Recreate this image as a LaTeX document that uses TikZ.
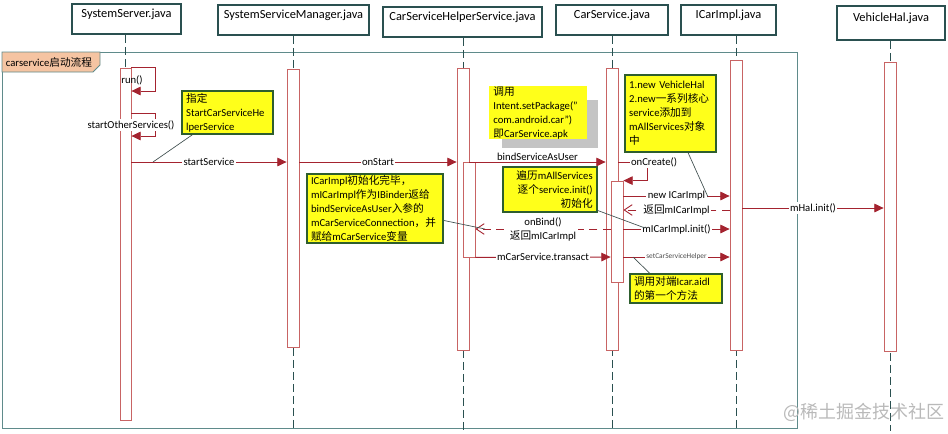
\documentclass[tikz,border=0pt]{standalone}
\usepackage{fontspec}
\setmainfont{Carlito}
\newfontfamily\cjkfont{Noto Sans CJK SC}
\usepackage{xcolor}
\usepackage{tikz}
\usetikzlibrary{shapes,arrows.meta,positioning,fit,calc,backgrounds}

\definecolor{headline}{HTML}{2A5050}
\definecolor{barred}{HTML}{C86464}
\definecolor{msgred}{HTML}{A4232F}
\definecolor{notegreen}{HTML}{2E5E2E}
\definecolor{noteyellow}{HTML}{FFFF1A}
\definecolor{framegray}{HTML}{5F8B8B}
\definecolor{tabfill}{HTML}{F5C4A2}
\definecolor{shadowgray}{HTML}{C4C4C4}
\definecolor{linkgray}{HTML}{404F4F}

\newcommand\zh[1]{{\cjkfont #1}}

\begin{document}
\begin{tikzpicture}[
    x=0.75pt, y=-0.75pt,
    head/.style={rectangle, draw=headline, line width=1.4pt, fill=white, inner sep=0pt, font=\fontsize{9.3}{11}\selectfont},
    bar/.style={rectangle, draw=barred, line width=0.6pt, fill=white, inner sep=0pt},
    life/.style={draw=headline, line width=0.6pt, dash pattern=on 6pt off 3pt},
    note/.style={rectangle, draw=notegreen, line width=1.4pt, fill=noteyellow, inner xsep=3pt, inner ysep=0pt, align=left, font=\fontsize{8}{10.5}\selectfont},
    lbl/.style={fill=white, inner sep=1pt, font=\fontsize{8}{9.5}\selectfont},
    msg/.style={draw=msgred, line width=0.7pt, -{Triangle[length=7pt,width=6.5pt]}},
    ret/.style={draw=msgred, line width=0.7pt, dash pattern=on 6pt off 4pt, -{Straight Barb[length=6pt,width=8pt]}},
    link/.style={draw=linkgray, line width=0.5pt}
]
\useasboundingbox (0,0) rectangle (948,433);

% Message levels
\coordinate (ystart) at (0,162);
\coordinate (ynew) at (0,196);
\coordinate (yhal) at (0,208);
\coordinate (yret) at (0,210);
\coordinate (yinit) at (0,229);
\coordinate (ytrans) at (0,257);
\coordinate (bottom) at (0,431);

% Headers
\node[head, fit={(72,4) (181,34)}] (hss) {SystemServer.java};
\node[head, fit={(218,5) (369,35)}] (hssm) {SystemServiceManager.java};
\node[head, fit={(383,7) (542,37)}] (hcsh) {CarServiceHelperService.java};
\node[head, fit={(556,5) (668,35)}] (hcs) {CarService.java};
\node[head, fit={(681,5) (776,35)}] (hici) {ICarImpl.java};
\node[head, fit={(837,6) (945,40)}] (hvh) {VehicleHal.java};

% Activation bars
\node[bar, fit={(120,68) (131,420)}] (bss) {};
\node[bar, fit={(287,69) (299,347)}] (bssm) {};
\node[bar, fit={(457,68) (469,350)}] (bcsh) {};
\node[bar, fit={(606,68) (618,350)}] (bcs) {};
\node[bar, fit={(730,60) (742,350)}] (bici) {};
\node[bar, fit={(884,62) (896,351)}] (bvh) {};
\node[bar, fit={(463,162) (475,257)}] (bcsh2) {};
\node[bar, fit={(611,181) (623,282)}] (bcs2) {};

% Frame and lifelines
\begin{scope}[on background layer]
\draw[framegray, line width=0.7pt] (2,52) rectangle (797,428);
\draw[life] (hss.south -| bss) -- (bss.south);
\foreach \h/\b in {hssm/bssm, hcsh/bcsh, hcs/bcs, hici/bici, hvh/bvh}
  \draw[life] (\h.south -| \b) -- (\b |- bottom);
\end{scope}

\draw[framegray, fill=tabfill, line width=0.6pt] (2,52) -- (100,52) -- (100,65) -- (93,72) -- (2,72) -- cycle;
\node[font=\fontsize{8}{9.5}\selectfont] (tabtxt) at (49,62) {carservice\zh{启动流程}};

% Messages
\draw[msg] (bss.north east) -- ++(24,0) |- ($(bss.east |- ystart)+(0,-71)$);
\node[font=\fontsize{8}{9.5}\selectfont] (lrun) at (132,80) {run()};
\draw[msg] ($(bss.east |- ystart)+(0,-49)$) -- ++(24,0) |- ($(bss.east |- ystart)+(0,-26)$);
\node[lbl] (lother) at (131,125) {startOtherServices()};

\draw[msg] (bss.east |- ystart) -- node[lbl] {startService} (bssm.west |- ystart);
\draw[msg] (bssm.east |- ystart) -- node[lbl] {onStart} (bcsh.west |- ystart);
\draw[msg] (bcsh.east |- ystart) -- node[lbl, above, inner sep=0.5pt] {bindServiceAsUser} (bcs.west |- ystart);
\draw[msg] (bcs.east |- ystart) -- ++(29,0) node[lbl, xshift=5pt] {onCreate()} |- (bcs2.north east);

\draw[msg] (bcs2.east |- ynew) -- node[lbl] {new ICarImpl} (bici.west |- ynew);
\draw[ret] (bici.west |- yret) -- node[lbl] {\zh{返回}mICarImpl} (bcs2.east |- yret);
\draw[msg] (bcs2.east |- yinit) -- node[lbl] {mICarImpl.init()} (bici.west |- yinit);
\draw[msg] (bici.east |- yhal) -- node[lbl] {mHal.init()} (bvh.west |- yhal);
\draw[ret] (bcs2.west |- yinit) -- node[lbl, above] {onBind()} node[lbl, below] {\zh{返回}mICarImpl} (bcsh2.east |- yinit);
\draw[msg] (bcsh2.south east) -- node[lbl] {mCarService.transact} (bcs2.west |- ytrans);
\draw[msg] (bcs2.east |- ytrans) -- node[lbl, font=\fontsize{5.5}{6}\selectfont, text=black!70] {setCarServiceHelper} (bici.west |- ytrans);

% Notes
\node[note, text width=62pt, minimum height=32pt] (nhelper) at (227.5,112.5) {\zh{指定}\\StartCarServiceHe\\lperService};
\node[fill=shadowgray, inner sep=0pt, fit={(502,100) (598,148)}] (nshadow) {};
\node[note, draw=none, text width=67pt, minimum height=36.5pt] (nintent) at (538,112.5) {\zh{调用}\\Intent.setPackage("\\com.android.car")\\\zh{即}CarService.apk};
\node[note, text width=62pt, minimum height=57.5pt] (nvhal) at (670.5,113.5) {1.new VehicleHal\\2.new\zh{一系列核心}\\service\zh{添加到}\\mAllServices\zh{对象}\\\zh{中}};
\node[note, align=right, text width=64pt, minimum height=33.5pt] (ninit) at (550,189.5) {\zh{遍历}mAllServices\\\zh{逐个}service.init()\\\zh{初始化}};
\node[note, text width=96pt, minimum height=51.5pt] (nbinder) at (375,208.5) {ICarImpl\zh{初始化完毕，}\\mICarImpl\zh{作为}IBinder\zh{返给}\\bindServiceAsUser\zh{入参的}\\mCarServiceConnection\zh{，并}\\\zh{赋给}mCarService\zh{变量}};
\node[note, text width=63pt, minimum height=21.5pt] (naidl) at (676,288.5) {\zh{调用对端}Icar.aidl\\\zh{的第一个方法}};

% Note links
\coordinate (chelper) at (153,162);
\coordinate (cvhal) at (708,197);
\coordinate (cinit) at (645,228);
\coordinate (cbinder) at (485,229);
\coordinate (caidl) at (633,257);
\draw[link] ($(nhelper.south west)!0.12!(nhelper.south east)$) -- (chelper);
\draw[link] ($(nvhal.south west)!0.69!(nvhal.south east)$) -- (cvhal);
\draw[link] ($(ninit.north east)!0.95!(ninit.south east)$) -- (cinit);
\draw[link] ($(nbinder.north east)!0.67!(nbinder.south east)$) -- (cbinder);
\draw[link] ($(naidl.north west)!0.22!(naidl.north east)$) -- (caidl);

% Watermark
\node[text=gray!55, font=\cjkfont\fontsize{13.5}{15}\selectfont] (wmark) at (864,412) {@稀土掘金技术社区};

\end{tikzpicture}
\end{document}
